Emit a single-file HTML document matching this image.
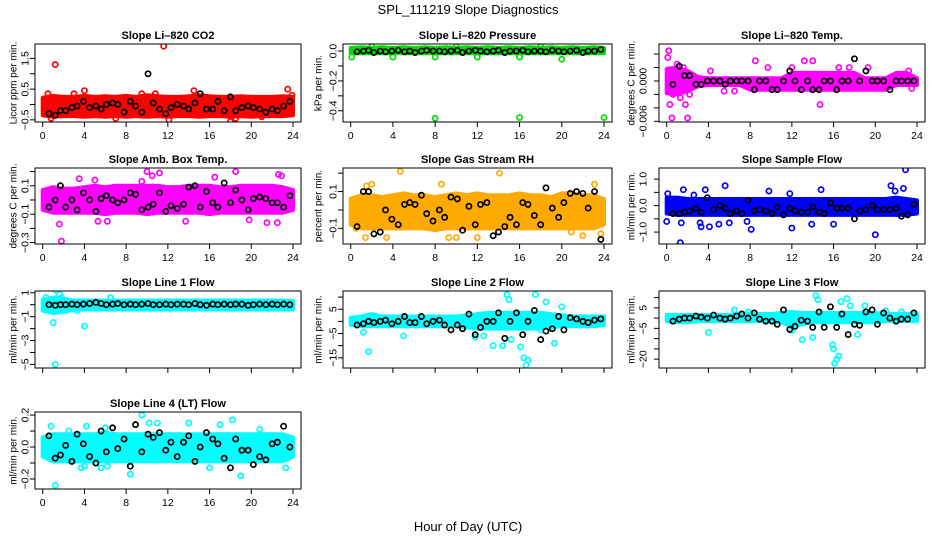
<!DOCTYPE html>
<html><head><meta charset="utf-8"><title>SPL_111219 Slope Diagnostics</title>
<style>
html,body{margin:0;padding:0;background:#fff;}
svg{display:block;font-family:"Liberation Sans",sans-serif;}
</style></head>
<body>
<svg id="chart" width="936" height="540" viewBox="0 0 936 540" xmlns="http://www.w3.org/2000/svg">
<rect x="0" y="0" width="936" height="540" fill="#fff"/>
<text x="468" y="14" text-anchor="middle" font-size="13">SPL_111219  Slope Diagnostics</text>
<text x="468" y="531" text-anchor="middle" font-size="13">Hour of Day (UTC)</text>
</svg>
<script>
const xTicks = [0,4,8,12,16,20,24];
const hours = [0,1,2,3,4,5,6,7,8,9,10,11,12,13,14,15,16,17,18,19,20,21,22,23,24];
const blackX = [0.6,1.2,1.7,2.2,2.8,3.3,3.9,4.5,5.1,5.6,6.1,6.7,7.2,7.8,8.4,8.9,9.5,10.1,10.6,11.2,11.8,12.3,12.9,13.5,14.0,14.6,15.1,15.7,16.3,16.8,17.4,18.0,18.5,19.1,19.7,20.2,20.8,21.4,22.0,22.5,23.1,23.7];

// CO2
const co2Black = [-0.3,-0.35,-0.2,-0.2,-0.1,-0.05,0.1,-0.1,-0.05,-0.15,0.0,0.05,0.0,-0.25,0.1,-0.05,-0.25,1.0,0.05,-0.15,-0.3,-0.1,0.0,-0.05,-0.15,0.05,0.35,-0.15,-0.15,0.1,-0.2,0.25,-0.2,-0.1,-0.05,-0.1,-0.15,-0.25,-0.15,-0.2,-0.05,0.1];
const co2BandLo = [-0.35,-0.4,-0.38,-0.38,-0.4,-0.38,-0.4,-0.38,-0.4,-0.38,-0.4,-0.38,-0.4,-0.38,-0.38,-0.4,-0.38,-0.38,-0.4,-0.38,-0.4,-0.38,-0.38,-0.38,-0.35];
const co2BandHi = [0.22,0.28,0.25,0.25,0.28,0.25,0.27,0.25,0.28,0.25,0.3,0.27,0.25,0.25,0.27,0.3,0.27,0.25,0.25,0.27,0.25,0.25,0.25,0.27,0.25];
const co2Out = [[1.2,1.3],[11.6,1.9],[0.5,0.35],[4.0,0.45],[10.8,0.35],[18.0,-0.55],[18.5,-0.45],[23.5,0.5],[23.9,0.3],[12.1,-0.5],[0.8,-0.45],[21.0,-0.4],[3.0,0.35],[14.5,0.45],[7.0,-0.45],[9.5,0.35]];
// Pressure
const presBlack = [-0.005,0,0.005,-0.01,0,-0.005,0,0.005,-0.005,0,-0.01,0,0.005,0,0,-0.005,0,0.005,-0.01,0,0.005,0,-0.005,0,0.005,-0.01,0,0,0.005,-0.005,0,0,-0.005,0.005,0,-0.005,0,0.005,-0.01,0,0,0.01];
const presBandLo = [-0.015,-0.015,-0.015,-0.015,-0.015,-0.015,-0.015,-0.015,-0.015,-0.015,-0.015,-0.015,-0.015,-0.015,-0.015,-0.015,-0.015,-0.015,-0.015,-0.015,-0.015,-0.015,-0.015,-0.015,-0.015];
const presBandHi = [0.02,0.025,0.02,0.025,0.02,0.025,0.02,0.025,0.02,0.025,0.02,0.025,0.02,0.025,0.02,0.025,0.02,0.025,0.02,0.025,0.02,0.025,0.02,0.025,0.02];
const presOut = [[0.1,-0.04],[4.0,-0.04],[8.0,-0.04],[12.0,-0.04],[16.0,-0.04],[20.0,-0.055],[8.0,-0.45],[16.0,-0.445],[24.0,-0.445],[2.0,0.03],[10.0,0.03],[18.0,0.03]];
// Li-820 Temp
const tempBlack = [-0.0005,0.0022,0.0008,0.0008,-0.0005,-0.0005,0.0,0.0,0.0,-0.0005,0.0,0.0,0.0,0.0,-0.0013,0.0,0.0,-0.0013,-0.0013,0.0,0.0015,0.0,-0.0013,0.0,-0.0013,-0.0013,0.0,0.0,-0.0013,0.0,0.0,0.0033,0.0,0.0015,0.0,0.0,0.0,-0.0013,0.0,0.0,0.0,0.0];
const tempBandLo = [-0.0018,-0.002,-0.0015,-0.0008,-0.0006,-0.0006,-0.0006,-0.0006,-0.0013,-0.0013,-0.0013,-0.0013,-0.0013,-0.0013,-0.0013,-0.0013,-0.0013,-0.0013,-0.0013,-0.0013,-0.0013,-0.0013,-0.0006,-0.0006,-0.0006];
const tempBandHi = [0.0018,0.002,0.0015,0.0006,0.0004,0.0004,0.0004,0.0004,0.0004,0.0004,0.0004,0.0004,0.0012,0.0012,0.0012,0.0012,0.0012,0.0012,0.0012,0.0004,0.0004,0.0004,0.0012,0.0012,0.0004];
const tempOut = [[0.2,0.0045],[0.1,0.0035],[0.3,-0.0035],[0.5,-0.0055],[2.0,-0.0055],[1.8,-0.0035],[8.5,0.003],[9.7,0.002],[13.2,0.003],[14.0,0.003],[14.7,-0.0035],[16.5,0.002],[17.5,0.002],[19.3,0.002],[4.2,0.0015],[5.5,-0.0015],[6.5,-0.0015],[23.2,0.0015],[23.5,-0.0011],[12.0,0.002],[0.6,-0.002],[1.0,0.0025],[1.3,-0.0025],[0.4,0.0015],[1.6,0.002],[2.2,-0.002]];
// Amb box temp
const ambBlack = [-0.05,0.0,0.1,-0.05,0.0,-0.07,0.05,0.0,-0.08,0.01,0.03,0.0,-0.02,0.0,0.05,0.04,-0.07,-0.05,-0.03,0.05,-0.08,-0.04,-0.06,-0.03,0.09,0.1,-0.05,0.06,-0.02,-0.05,0.12,-0.02,0.07,0.0,-0.07,0.01,0.02,0.01,-0.02,-0.02,-0.05,0.03];
const ambBandLo = [-0.07,-0.09,-0.09,-0.09,-0.09,-0.09,-0.1,-0.09,-0.09,-0.09,-0.1,-0.09,-0.09,-0.09,-0.09,-0.09,-0.1,-0.09,-0.09,-0.09,-0.09,-0.09,-0.09,-0.09,-0.07];
const ambBandHi = [0.07,0.09,0.08,0.08,0.09,0.1,0.09,0.1,0.1,0.1,0.1,0.1,0.09,0.09,0.1,0.1,0.1,0.09,0.09,0.1,0.1,0.1,0.1,0.09,0.07];
const ambOut = [[1.6,-0.17],[1.8,-0.29],[3.5,0.15],[5.0,0.14],[10.0,0.2],[10.5,0.17],[11.2,0.19],[16.5,0.16],[18.5,0.2],[22.6,0.18],[22.9,0.17],[5.3,-0.15],[6.2,-0.15],[13.7,-0.15],[19.8,-0.14],[21.5,-0.16],[22.5,-0.16],[9.5,0.13]];
// Gas stream RH
const rhBlack = [-0.09,0.1,0.1,-0.13,-0.12,0.0,-0.05,-0.08,0.03,0.04,0.03,0.08,-0.02,-0.06,0.0,-0.04,0.07,0.06,-0.11,0.02,-0.08,0.03,0.04,-0.14,-0.12,-0.09,-0.04,-0.08,0.04,0.03,-0.03,-0.08,0.12,0.01,-0.04,0.04,0.09,0.1,0.09,0.01,0.1,-0.16];
const rhBandLo = [-0.08,-0.1,-0.1,-0.1,-0.1,-0.1,-0.1,-0.1,-0.11,-0.1,-0.1,-0.1,-0.1,-0.1,-0.1,-0.1,-0.1,-0.1,-0.1,-0.1,-0.1,-0.1,-0.1,-0.1,-0.08];
const rhBandHi = [0.06,0.08,0.08,0.07,0.08,0.09,0.08,0.08,0.07,0.08,0.09,0.08,0.09,0.08,0.08,0.08,0.09,0.08,0.08,0.07,0.09,0.09,0.08,0.08,0.06];
const rhOut = [[4.7,0.21],[14.1,0.2],[8.6,0.14],[1.5,0.13],[2.0,0.14],[23.1,0.14],[1.4,-0.15],[3.4,-0.15],[9.3,-0.15],[10.0,-0.15],[12.0,-0.15],[22.0,-0.14],[20.9,-0.12],[23.7,-0.13],[0.5,-0.1]];
// Sample flow
const flowBlack = [-0.3,-0.3,-0.25,-0.2,-0.1,-0.25,0.3,-0.15,0.0,-0.1,-0.3,-0.2,-0.3,0.2,-0.2,-0.15,-0.2,-0.3,-0.05,-0.35,-0.1,-0.2,-0.25,-0.25,-0.05,-0.25,-0.3,0.1,-0.1,-0.1,-0.1,-0.5,-0.2,-0.15,0.0,-0.15,-0.15,-0.15,-0.1,-0.4,-0.35,0.05];
const flowBandLo = [-0.3,-0.35,-0.35,-0.35,-0.35,-0.35,-0.35,-0.35,-0.35,-0.35,-0.35,-0.35,-0.35,-0.35,-0.35,-0.35,-0.35,-0.35,-0.35,-0.35,-0.35,-0.35,-0.35,-0.35,-0.3];
const flowBandHi = [0.3,0.3,0.25,0.25,0.25,0.25,0.25,0.25,0.25,0.25,0.25,0.25,0.25,0.25,0.25,0.25,0.25,0.25,0.25,0.25,0.25,0.25,0.3,0.25,0.2];
const flowOut = [[0.0,-0.6],[0.1,0.45],[1.3,-1.4],[1.4,-0.65],[1.6,0.6],[2.6,0.4],[3.2,-0.65],[3.3,-0.8],[3.7,0.6],[4.1,-0.8],[5.0,-0.7],[5.6,0.75],[6.0,-0.65],[7.7,-0.6],[8.1,-0.9],[9.8,0.55],[12.0,-0.85],[11.8,0.45],[13.9,-0.7],[14.8,0.6],[16.0,-0.7],[20.0,-1.1],[21.5,0.75],[22.7,0.65],[22.9,1.35],[21.9,0.55]];
// Line 1 flow
const l1Black = [0,-0.05,0,0,0.05,0,0.05,0.1,0.2,0.1,0,0.05,0.1,0,0.05,0,0.05,0.1,0,0,0.05,0,0.05,0.05,0,0.1,0,-0.05,0.05,0,0.05,0,0.05,0.05,-0.05,0,0.05,0,0.05,0,0.05,0];
const l1BandLo = [-0.5,-0.7,-0.6,-0.4,-0.4,-0.4,-0.4,-0.4,-0.4,-0.4,-0.4,-0.4,-0.4,-0.4,-0.4,-0.4,-0.4,-0.4,-0.4,-0.4,-0.4,-0.4,-0.4,-0.4,-0.4];
const l1BandHi = [0.4,0.6,0.5,0.35,0.35,0.35,0.35,0.35,0.35,0.35,0.35,0.35,0.35,0.35,0.35,0.35,0.35,0.35,0.35,0.35,0.35,0.35,0.35,0.35,0.3];
const l1Out = [[1.2,-5.0],[1.0,-1.5],[4.0,-1.8],[1.3,1.2],[1.6,0.9],[1.8,0.6],[3.3,-0.5],[6.5,0.6],[0.3,0.6]];
// Line 2 flow
const l2Black = [-1.5,-1,0,-0.5,0,0.5,-1,0,2,-0.5,-0.5,2,-1,0,0.5,-1.5,-3.5,-1.5,-3,3,-5.5,-2.5,0,0,3.5,-7,0,3.5,-5.5,0,4.5,-7.5,-4,-3,2,-3.5,1.5,1,0,-0.5,0.5,1];
const l2BandLo = [-1.5,-2,-2,-2,-2,-2,-2,-2,-2,-2,-2,-2.5,-3,-3,-3,-3,-3,-3,-3,-2.5,-2,-2,-2,-2,-1.5];
const l2BandHi = [1.5,2,3,2,2,2,2,2,2,2,2,2.5,3,3.5,3.5,3.5,3.5,3.5,3.5,3,2.5,2,2,2,2];
const l2Out = [[1.2,-4.5],[1.7,-12.5],[5.0,-6],[11.8,-6.5],[13.5,-10],[14.4,-10],[15.2,-7.5],[15.0,9],[14.8,11],[16.1,-10.5],[16.4,-15],[16.8,-16],[16.6,-18],[17.5,11],[18.5,8],[18.0,-3.5],[19.3,-9],[20.0,6],[12.6,-6]];
// Line 3 flow
const l3Black = [-1.5,-0.5,0,0,1,0.5,0,1.5,0,-0.5,0,1,2,0,2.5,-0.5,-1.5,-1.5,-3,4,-5.5,-4,-1,-1.5,-4.5,3,-4.5,5.5,-4.5,2,-8,-3,-3.5,3,4,-3,2.5,0,-1.5,-0.5,-0.5,2.5];
const l3BandLo = [-1.5,-2,-2,-1.5,-1.5,-1.5,-1.5,-1.5,-1.5,-1.5,-1.5,-2,-4,-3,-2,-2,-2,-2,-2,-2,-2,-1.5,-1.5,-1.5,-1.5];
const l3BandHi = [1.5,1.5,1.5,1.5,1.5,1.5,1.5,2,2,2,2,2.5,3,2.5,2.5,2.5,2.5,2.5,2.5,2.5,2.5,2,2,2,2];
const l3Out = [[4.0,-7],[12.0,-6],[13.0,-10.5],[14.0,-9.5],[14.3,11],[14.5,9],[16.0,-15],[16.1,-22],[16.3,-20],[16.5,-18.5],[15.9,-13],[16.7,8],[17.3,9.5],[17.6,6],[18.3,-8],[19.0,6],[21.0,3.5],[22.5,3],[6.5,4],[7.8,3]];
// Line 4 flow
const l4Black = [0.07,-0.07,-0.05,0.01,-0.09,0.08,0.02,-0.06,-0.1,0.1,-0.03,0.12,-0.01,0.05,-0.12,0.14,-0.03,0.08,0.06,0.09,-0.02,0.03,-0.06,0.03,0.07,-0.09,0.0,0.09,0.05,0.02,-0.07,-0.13,0.05,-0.02,-0.02,-0.11,-0.06,-0.08,0.02,0.03,0.13,0.0];
const l4BandLo = [-0.06,-0.09,-0.09,-0.09,-0.09,-0.09,-0.09,-0.09,-0.09,-0.09,-0.09,-0.09,-0.09,-0.09,-0.09,-0.09,-0.09,-0.09,-0.09,-0.09,-0.09,-0.09,-0.09,-0.09,-0.06];
const l4BandHi = [0.06,0.08,0.08,0.08,0.08,0.08,0.09,0.08,0.08,0.08,0.08,0.08,0.08,0.08,0.08,0.08,0.08,0.08,0.08,0.08,0.08,0.08,0.08,0.08,0.06];
const l4Out = [[1.2,-0.24],[0.8,0.13],[2.5,0.1],[4.2,0.13],[3.7,-0.13],[4.0,-0.12],[6.0,0.12],[6.2,-0.12],[8.4,-0.17],[9.5,0.2],[10.2,0.15],[11.0,0.15],[14.0,0.15],[16.0,-0.13],[17.0,0.14],[18.2,0.17],[19.0,-0.18],[20.8,0.11],[23.3,-0.13],[5.6,-0.13]];

const cols = [{x:35,w:266,tx:25,lx:13},{x:343,w:269,tx:333,lx:318},{x:659,w:266,tx:643,lx:631}];
const rows = [{y:44,h:78},{y:168,h:76},{y:291,h:77},{y:412,h:77}];

const panels = [
 {name:'co2',title:'Slope Li\u2013820 CO2',ylab:'Licor ppm per min.',c:0,r:0,dom:[-0.57,1.97],ticks:[-0.5,0,0.5,1,1.5],labs:[[-0.5,'\u22120.5'],[0.5,'0.5'],[1.5,'1.5']],col:'#ff0000',black:co2Black,lo:co2BandLo,hi:co2BandHi,out:co2Out},
 {name:'pressure',title:'Slope Li\u2013820 Pressure',ylab:'kPa per min.',c:1,r:0,dom:[-0.475,0.047],ticks:[0,-0.1,-0.2,-0.3,-0.4],labs:[[0,'0.0'],[-0.2,'\u22120.2'],[-0.4,'\u22120.4']],col:'#00dd00',black:presBlack,lo:presBandLo,hi:presBandHi,out:presOut},
 {name:'li820-temp',title:'Slope Li\u2013820 Temp.',ylab:'degrees C per min.',c:2,r:0,dom:[-0.0061,0.0055],ticks:[-0.006,-0.004,-0.002,0,0.002,0.004],labs:[[0,'0.000'],[-0.006,'\u22120.006']],col:'#ff00ff',black:tempBlack,lo:tempBandLo,hi:tempBandHi,out:tempOut},
 {name:'amb-box-temp',title:'Slope Amb. Box Temp.',ylab:'degrees C per min.',c:0,r:1,dom:[-0.31,0.225],ticks:[-0.3,-0.2,-0.1,0,0.1,0.2],labs:[[0.1,'0.1'],[-0.1,'\u22120.1'],[-0.3,'\u22120.3']],col:'#ff00ff',black:ambBlack,lo:ambBandLo,hi:ambBandHi,out:ambOut},
 {name:'gas-stream-rh',title:'Slope Gas Stream RH',ylab:'percent per min.',c:1,r:1,dom:[-0.185,0.228],ticks:[-0.1,0,0.1,0.2],labs:[[0.1,'0.1'],[-0.1,'\u22120.1']],col:'#ffaa00',black:rhBlack,lo:rhBandLo,hi:rhBandHi,out:rhOut},
 {name:'sample-flow',title:'Slope Sample Flow',ylab:'ml/min per min.',c:2,r:1,dom:[-1.45,1.42],ticks:[-1,-0.5,0,0.5,1],labs:[[1,'1.0'],[0,'0.0'],[-1,'\u22121.0']],col:'#0000ff',black:flowBlack,lo:flowBandLo,hi:flowBandHi,out:flowOut},
 {name:'line1-flow',title:'Slope Line 1 Flow',ylab:'ml/min per min.',c:0,r:2,dom:[-5.3,1.15],ticks:[1,0,-1,-2,-3,-4,-5],labs:[[1,'1'],[-1,'\u22121'],[-3,'\u22123'],[-5,'\u22125']],col:'#00ffff',black:l1Black,lo:l1BandLo,hi:l1BandHi,out:l1Out},
 {name:'line2-flow',title:'Slope Line 2 Flow',ylab:'ml/min per min.',c:1,r:2,dom:[-19.2,12.5],ticks:[10,5,0,-5,-10,-15],labs:[[5,'5'],[-5,'\u22125'],[-15,'\u221215']],col:'#00ffff',black:l2Black,lo:l2BandLo,hi:l2BandHi,out:l2Out},
 {name:'line3-flow',title:'Slope Line 3 Flow',ylab:'ml/min per min.',c:2,r:2,dom:[-24.3,13.2],ticks:[10,5,0,-5,-10,-15,-20],labs:[[5,'5'],[-5,'\u22125'],[-20,'\u221220']],col:'#00ffff',black:l3Black,lo:l3BandLo,hi:l3BandHi,out:l3Out},
 {name:'line4-flow',title:'Slope Line 4 (LT) Flow',ylab:'ml/min per min.',c:0,r:3,dom:[-0.2625,0.219],ticks:[0.2,0.1,0,-0.1,-0.2],labs:[[0.2,'0.2'],[0,'0.0'],[-0.2,'\u22120.2']],col:'#00ffff',black:l4Black,lo:l4BandLo,hi:l4BandHi,out:l4Out}
];

const NS='http://www.w3.org/2000/svg';
const svg=document.getElementById('chart');
function mk(tag,attrs,parent){const e=document.createElementNS(NS,tag);for(const k in attrs)e.setAttribute(k,attrs[k]);(parent||svg).appendChild(e);return e;}

panels.forEach(p=>{
  const C=cols[p.c],R=rows[p.r];
  const L=C.x,T=R.y,W=C.w,H=R.h;
  const xs=v=>L+7.7+(v)*(W-15.7)/24;
  const ys=v=>T+H-(v-p.dom[0])/(p.dom[1]-p.dom[0])*H;
  const g=mk('g',{});
  
  
  const clipId='clip-'+p.name;
  const cp=mk('clipPath',{id:clipId},g);
  mk('rect',{x:L,y:T,width:W,height:H},cp);
  const marks=mk('g',{'clip-path':'url(#'+clipId+')'},g);
  let pts=hours.map((h,i)=>xs(h)+','+ys(p.hi[i]));
  pts=pts.concat(hours.slice().reverse().map((h,j)=>{const i=hours.length-1-j;return xs(h)+','+ys(p.lo[i]);}));
  const band=mk('polygon',{points:pts.join(' '),fill:p.col,stroke:p.col,'stroke-width':4,'stroke-linejoin':'round'},marks);
  
  
  p.out.forEach(o=>{
    const c=mk('circle',{cx:xs(o[0]),cy:ys(o[1]),r:2.6,fill:'none',stroke:p.col,'stroke-width':1.7},marks);
    
    
  });
  p.black.forEach((v,i)=>{
    const c=mk('circle',{cx:xs(blackX[i]),cy:ys(v),r:2.6,fill:'none',stroke:'#000','stroke-width':1.7},marks);
    
    
  });
  const fr=mk('rect',{x:L,y:T,width:W,height:H,fill:'none',stroke:'#000','stroke-width':1},g);
  
  
  const xa=mk('g',{},g);
  
  
  mk('line',{x1:xs(0),x2:xs(24),y1:T+H,y2:T+H,stroke:'#000'},xa);
  xTicks.forEach(t=>{
    mk('line',{x1:xs(t),x2:xs(t),y1:T+H,y2:T+H+5,stroke:'#000'},xa);
    if(p.r!==2){
      const tx=mk('text',{x:xs(t),y:T+H+17,'text-anchor':'middle','font-size':10.5},xa);
      
      
      tx.textContent=t;
    }
  });
  const ya=mk('g',{},g);
  
  
  const tmin=Math.min(...p.ticks),tmax=Math.max(...p.ticks);
  mk('line',{x1:L,x2:L,y1:ys(tmin),y2:ys(tmax),stroke:'#000'},ya);
  p.ticks.forEach(t=>mk('line',{x1:L-5,x2:L,y1:ys(t),y2:ys(t),stroke:'#000'},ya));
  p.labs.forEach(l=>{
    const y=ys(l[0]);
    const tx=mk('text',{x:C.tx,y:y,'text-anchor':'middle','font-size':10.5,transform:'rotate(-90 '+C.tx+' '+y+')',dy:'0.35em'},ya);
    
    
    tx.textContent=l[1];
  });
  const cy=T+H/2;
  const yl=mk('text',{x:C.lx,y:cy,'text-anchor':'middle','font-size':10,transform:'rotate(-90 '+C.lx+' '+cy+')',dy:'0.35em'},g);
  
  
  yl.textContent=p.ylab;
  const ti=mk('text',{x:L+W/2,y:T-5,'text-anchor':'middle','font-size':11,'font-weight':'bold'},g);
  
  
  ti.textContent=p.title;
});
</script>
</body></html>
